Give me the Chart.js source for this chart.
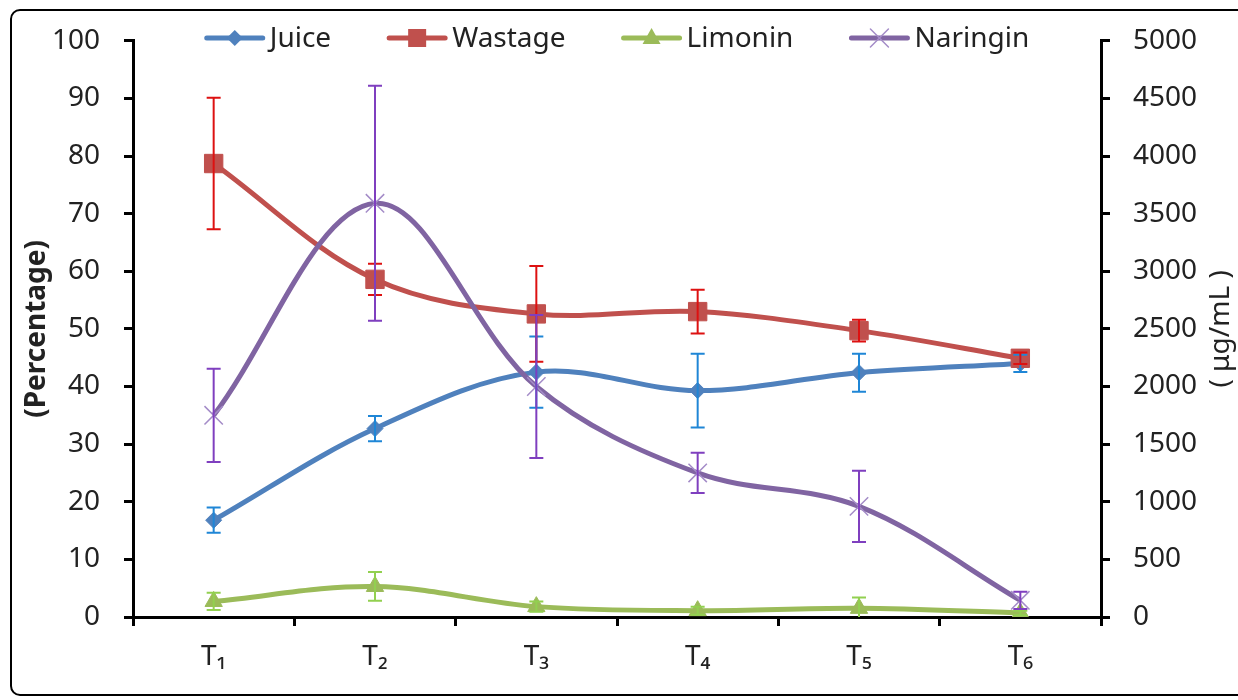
<!DOCTYPE html>
<html lang="en">
<head>
  <meta charset="UTF-8">
  <title>Juice, Wastage, Limonin and Naringin</title>
  <script src="https://cdn.jsdelivr.net/npm/chart.js"></script>
  <style>
    * { margin: 0; padding: 0; box-sizing: border-box; }
    body { background: #fff; width: 1238px; height: 700px; overflow: hidden; position: relative; }
    /* outer frame, right side runs off the page like the reference */
    .frame {
      position: absolute; left: 10px; top: 9px; width: 1270px; height: 687px;
      border: 2px solid #000; border-radius: 10px;
    }
    .chart-box { position: absolute; left: 0; top: 0; width: 1238px; height: 700px; }
  </style>
</head>
<body>
  <div class="frame"></div>
  <div class="chart-box"><canvas id="fruitChart"></canvas></div>

  <script>
    // categories and values
    const categories = ['T\u2081', 'T\u2082', 'T\u2083', 'T\u2084', 'T\u2085', 'T\u2086'];

    const juice       = [16.8, 32.7, 42.5, 39.3, 42.4, 44.0];
    const juiceErr    = [2.2, 2.2, 6.2, 6.4, 3.3, 1.5];
    const wastage     = [78.7, 58.6, 52.6, 53.0, 49.7, 44.9];
    const wastageErr  = [11.4, 2.7, 8.3, 3.8, 1.9, 1.0];
    const limonin     = [2.7, 5.3, 1.8, 1.1, 1.5, 0.7];
    const limoninErr  = [1.5, 2.5, 0.9, 0.7, 1.9, 0.4];
    const naringin    = [1750, 3590, 2000, 1250, 960, 145];
    const naringinErr = [405, 1020, 620, 175, 310, 75];

    const leftTitle = '(Percentage)';
    const rightTitle = '( \u03BCg/mL )';

    const FONT = "'Noto Sans', 'DejaVu Sans', sans-serif";

    // error bars, drawn through the y scales
    const errorBars = {
      id: 'errorBars',
      afterDatasetsDraw(chart) {
        const ctx = chart.ctx;
        const area = chart.chartArea;
        ctx.save();
        ctx.beginPath();
        ctx.rect(area.left, area.top - 2, area.right - area.left, area.bottom - area.top + 2);
        ctx.clip();
        chart.data.datasets.forEach((ds, di) => {
          const meta = chart.getDatasetMeta(di);
          const scale = chart.scales[ds.yAxisID];
          ctx.strokeStyle = ds.errorColor;
          ctx.lineWidth = 2;
          ds.data.forEach((v, i) => {
            const x = meta.data[i].x;
            const yHi = scale.getPixelForValue(v + ds.errors[i]);
            const yLo = scale.getPixelForValue(v - ds.errors[i]);
            ctx.beginPath();
            ctx.moveTo(x, yHi); ctx.lineTo(x, yLo);
            ctx.moveTo(x - 7, yHi); ctx.lineTo(x + 7, yHi);
            ctx.moveTo(x - 7, yLo); ctx.lineTo(x + 7, yLo);
            ctx.stroke();
          });
        });
        ctx.restore();
      }
    };

    function drawMarker(ctx, style, x, y, fill, stroke) {
      ctx.save();
      ctx.fillStyle = fill;
      ctx.strokeStyle = stroke;
      ctx.beginPath();
      if (style === 'rectRot') {
        ctx.moveTo(x - 8, y); ctx.lineTo(x, y - 8); ctx.lineTo(x + 8, y); ctx.lineTo(x, y + 8);
        ctx.closePath(); ctx.fill();
      } else if (style === 'rect') {
        ctx.rect(x - 9, y - 9, 18, 18); ctx.fill();
      } else if (style === 'triangle') {
        ctx.moveTo(x, y - 10); ctx.lineTo(x + 9, y + 6); ctx.lineTo(x - 9, y + 6);
        ctx.closePath(); ctx.fill();
      } else {
        ctx.lineWidth = 1.5;
        ctx.moveTo(x - 9, y - 9); ctx.lineTo(x + 9, y + 9);
        ctx.moveTo(x + 9, y - 9); ctx.lineTo(x - 9, y + 9);
        ctx.stroke();
      }
      ctx.restore();
    }

    // legend inside the top of the plot and the two axis titles
    const overlay = {
      id: 'overlay',
      afterDraw(chart) {
        const ctx = chart.ctx;
        const area = chart.chartArea;
        ctx.save();
        ctx.font = '28px ' + FONT;
        ctx.textBaseline = 'middle';
        const lineW = 60, gap = 5, itemGap = 56;
        const items = chart.data.datasets.map(ds => ({ ds, w: lineW + gap + ctx.measureText(ds.label).width }));
        const total = items.reduce((s, it) => s + it.w, 0) + itemGap * (items.length - 1);
        let x = (area.left + area.right) / 2 - total / 2;
        const y = 38;
        items.forEach(it => {
          ctx.strokeStyle = it.ds.borderColor;
          ctx.lineWidth = 5;
          ctx.lineCap = 'round';
          ctx.beginPath(); ctx.moveTo(x + 2, y); ctx.lineTo(x + lineW - 2, y); ctx.stroke();
          drawMarker(ctx, it.ds.pointStyle, x + lineW / 2, y, it.ds.pointBackgroundColor, it.ds.pointBorderColor);
          ctx.fillStyle = '#222';
          ctx.textAlign = 'left';
          ctx.fillText(it.ds.label, x + lineW + gap, y + 1);
          x += it.w + itemGap;
        });

        const cy = (area.top + area.bottom) / 2;
        ctx.fillStyle = '#222';
        ctx.textAlign = 'center';
        ctx.save();
        ctx.translate(37, cy);
        ctx.rotate(-Math.PI / 2);
        ctx.font = 'bold 28px ' + FONT;
        ctx.fillText(leftTitle, 0, 0);
        ctx.restore();
        ctx.save();
        ctx.translate(1221, cy);
        ctx.rotate(-Math.PI / 2);
        ctx.font = '28px ' + FONT;
        ctx.fillText(rightTitle, 0, 0);
        ctx.restore();
        ctx.restore();
      }
    };

    const axisLook = {
      grid: { display: true, drawOnChartArea: false, drawTicks: true, tickLength: 9, color: '#000', lineWidth: 3 },
      border: { display: true, color: '#000', width: 3 }
    };

    new Chart(document.getElementById('fruitChart').getContext('2d'), {
      type: 'line',
      data: {
        labels: categories,
        datasets: [
          {
            label: 'Juice', data: juice, errors: juiceErr, errorColor: '#1F86D6',
            yAxisID: 'y', order: 4,
            borderColor: '#4F81BD', borderWidth: 5, tension: 0.35,
            pointStyle: 'rectRot', pointRadius: 8, pointBorderWidth: 1,
            pointBackgroundColor: '#4F81BD', pointBorderColor: '#4F81BD'
          },
          {
            label: 'Wastage', data: wastage, errors: wastageErr, errorColor: '#DD1111',
            yAxisID: 'y', order: 3,
            borderColor: '#C0504D', borderWidth: 5, tension: 0.35,
            pointStyle: 'rect', pointRadius: 13, pointBorderWidth: 1,
            pointBackgroundColor: '#C0504D', pointBorderColor: '#C0504D'
          },
          {
            label: 'Limonin', data: limonin, errors: limoninErr, errorColor: '#92D050',
            yAxisID: 'y', order: 2,
            borderColor: '#9BBB59', borderWidth: 5, tension: 0.35,
            pointStyle: 'triangle', pointRadius: 10, pointBorderWidth: 1,
            pointBackgroundColor: '#9BBB59', pointBorderColor: '#9BBB59'
          },
          {
            label: 'Naringin', data: naringin, errors: naringinErr, errorColor: '#7F3FBF',
            yAxisID: 'y1', order: 1,
            borderColor: '#8064A2', borderWidth: 5, tension: 0.35,
            pointStyle: 'crossRot', pointRadius: 13, pointBorderWidth: 1.5,
            pointBackgroundColor: '#A48CC8', pointBorderColor: '#A48CC8'
          }
        ]
      },
      options: {
        responsive: true,
        maintainAspectRatio: false,
        animation: false,
        layout: { padding: { top: 39, bottom: 23, left: 0, right: 0 } },
        plugins: { legend: { display: false }, tooltip: { enabled: false } },
        scales: {
          x: {
            offset: true,
            ...axisLook,
            grid: { ...axisLook.grid, offset: true },
            ticks: { color: '#222', font: { family: FONT, size: 28 }, padding: 14 },
            afterFit(scale) { scale.height = 60; }
          },
          y: {
            position: 'left', min: 0, max: 100,
            ...axisLook,
            ticks: { stepSize: 10, color: '#222', font: { family: FONT, size: 28 }, padding: 24 },
            afterFit(scale) { scale.width = 133; }
          },
          y1: {
            position: 'right', min: 0, max: 5000,
            ...axisLook,
            ticks: {
              stepSize: 500, color: '#222', font: { family: FONT, size: 28 }, padding: 23,
              callback: v => String(v)
            },
            afterFit(scale) { scale.width = 137; }
          }
        }
      },
      plugins: [errorBars, overlay]
    });
  </script>
</body>
</html>
